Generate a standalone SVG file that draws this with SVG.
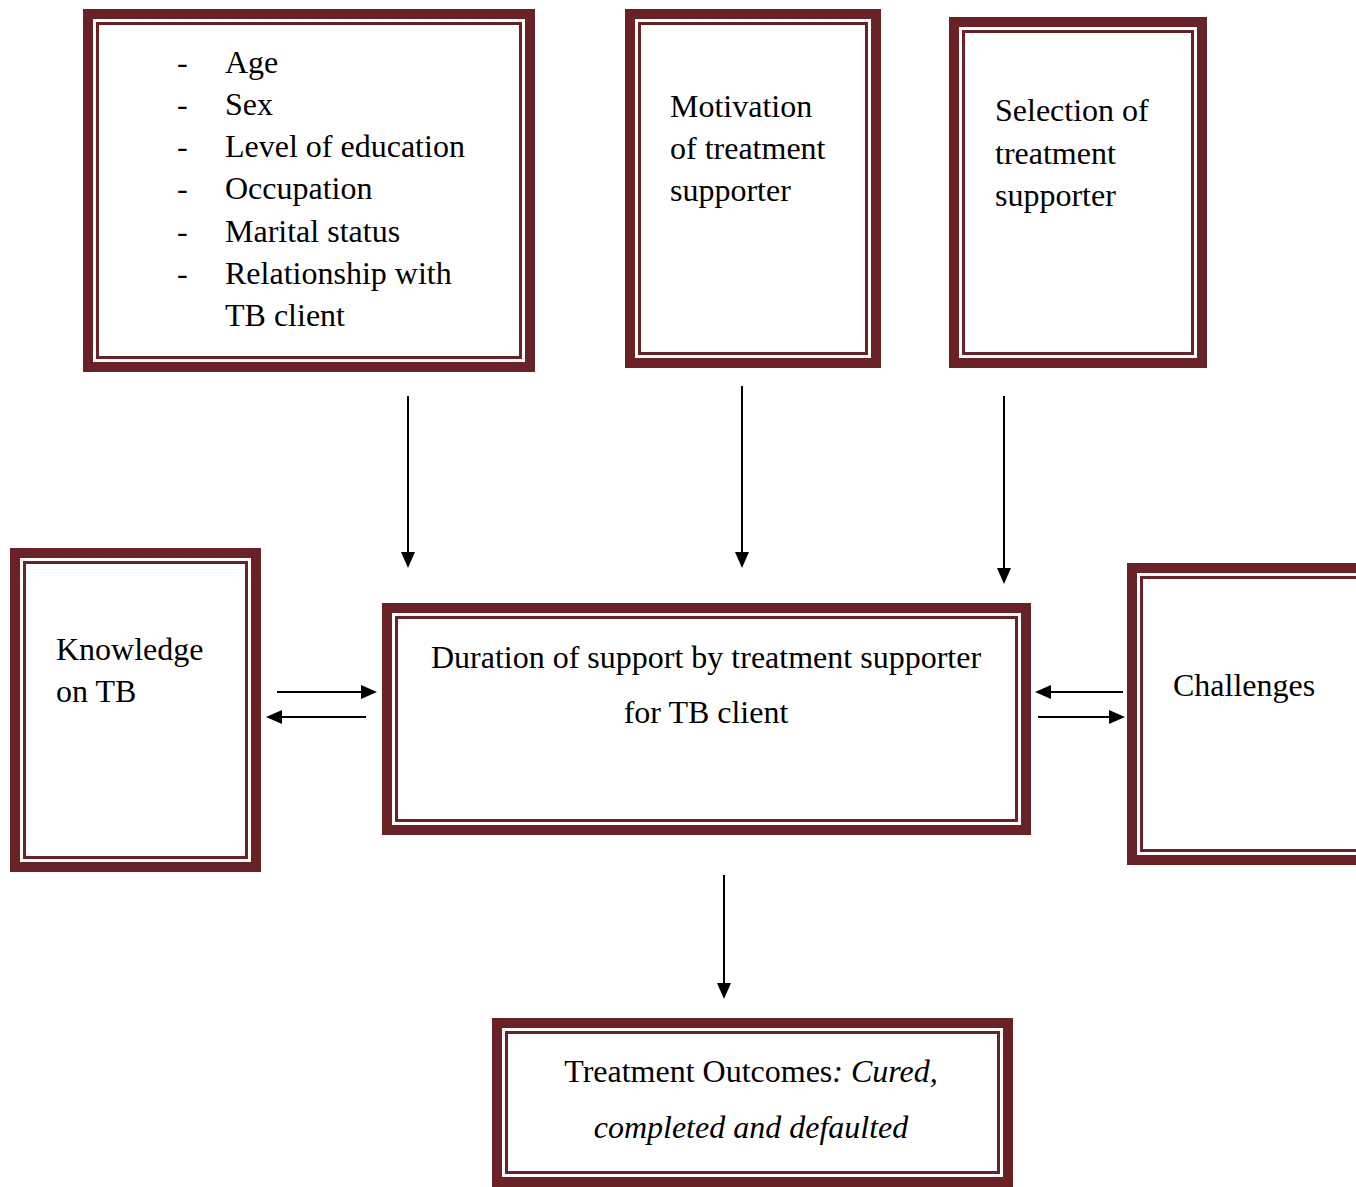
<svg xmlns="http://www.w3.org/2000/svg" width="1356" height="1187" viewBox="0 0 1356 1187">
<style>
.ob{fill:none;stroke:#6B2226;stroke-width:10}
.ib{fill:none;stroke:#6B2226;stroke-width:3}
text{font-family:"Liberation Serif","Times New Roman",serif;font-size:32px;fill:#000}
.c{text-anchor:middle}
.i{font-style:italic}
line{stroke:#000;stroke-width:2}
</style>
<defs>
<marker id="av" markerWidth="16" markerHeight="16" refX="14" refY="8" orient="auto" markerUnits="userSpaceOnUse">
<path d="M0,1 L16,8 L0,15 z" fill="#000"/>
</marker>
</defs>
<rect width="1356" height="1187" fill="#fff"/>
<g id="demographics">
<rect class="ob" x="88" y="14" width="442" height="353"/>
<rect class="ib" x="97.5" y="23.5" width="423" height="334"/>
<text x="177" y="73">-</text><text x="225" y="73">Age</text>
<text x="177" y="115">-</text><text x="225" y="115">Sex</text>
<text x="177" y="157">-</text><text x="225" y="157">Level of education</text>
<text x="177" y="199">-</text><text x="225" y="199">Occupation</text>
<text x="177" y="242">-</text><text x="225" y="242">Marital status</text>
<text x="177" y="284">-</text><text x="225" y="284">Relationship with</text>
<text x="225" y="326">TB client</text>
</g>
<g id="motivation">
<rect class="ob" x="630" y="14" width="246" height="349"/>
<rect class="ib" x="639.5" y="23.5" width="227" height="330"/>
<text x="670" y="117">Motivation</text>
<text x="670" y="159">of treatment</text>
<text x="670" y="201">supporter</text>
</g>
<g id="selection">
<rect class="ob" x="954" y="22" width="248" height="341"/>
<rect class="ib" x="963.5" y="31.5" width="229" height="322"/>
<text x="995" y="121">Selection of</text>
<text x="995" y="164">treatment</text>
<text x="995" y="206">supporter</text>
</g>
<g id="knowledge">
<rect class="ob" x="15" y="553" width="241" height="314"/>
<rect class="ib" x="24.5" y="562.5" width="222" height="295"/>
<text x="56" y="660">Knowledge</text>
<text x="56" y="702">on TB</text>
</g>
<g id="duration">
<rect class="ob" x="387" y="608" width="639" height="222"/>
<rect class="ib" x="396.5" y="617.5" width="620" height="203"/>
<text class="c" x="706" y="668">Duration of support by treatment supporter</text>
<text class="c" x="706" y="723">for TB client</text>
</g>
<g id="challenges">
<rect class="ob" x="1132" y="568" width="240" height="292"/>
<rect class="ib" x="1141.5" y="577.5" width="221" height="273"/>
<text x="1173" y="696">Challenges</text>
</g>
<g id="outcomes">
<rect class="ob" x="497" y="1023" width="511" height="159"/>
<rect class="ib" x="506.5" y="1032.5" width="492" height="140"/>
<text class="c" x="751" y="1082">Treatment Outcomes<tspan class="i">: Cured,</tspan></text>
<text class="c i" x="751" y="1138">completed and defaulted</text>
</g>
<g id="connectors">
<line x1="408" y1="396" x2="408" y2="566" marker-end="url(#av)"/>
<line x1="742" y1="386" x2="742" y2="566" marker-end="url(#av)"/>
<line x1="1004" y1="396" x2="1004" y2="582" marker-end="url(#av)"/>
<line x1="724" y1="875" x2="724" y2="997" marker-end="url(#av)"/>
<line x1="277" y1="692" x2="375" y2="692" marker-end="url(#av)"/>
<line x1="366" y1="717" x2="268" y2="717" marker-end="url(#av)"/>
<line x1="1123" y1="692" x2="1037" y2="692" marker-end="url(#av)"/>
<line x1="1038" y1="717" x2="1123" y2="717" marker-end="url(#av)"/>
</g>
</svg>
